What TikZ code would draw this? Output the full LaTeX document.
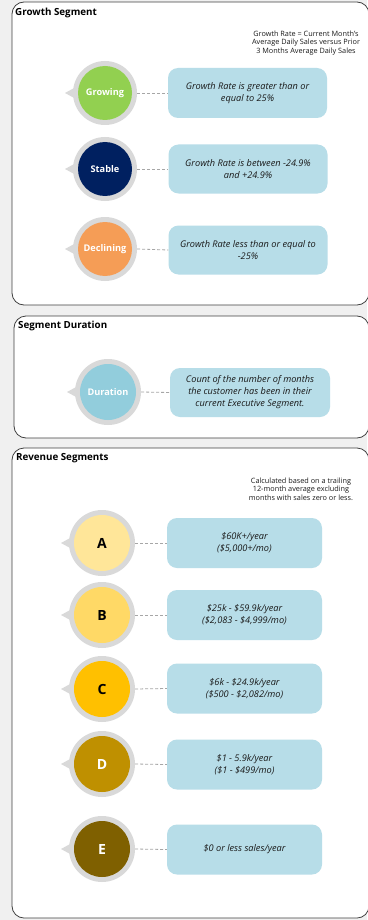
\documentclass[tikz,border=0pt]{standalone}
\usepackage{fontspec}
\setmainfont{Open Sans}
\usetikzlibrary{calc}
\definecolor{pagebg}{HTML}{F0F0F0}
\definecolor{frameline}{HTML}{404040}
\definecolor{ringgray}{HTML}{D9D9D9}
\definecolor{boxblue}{HTML}{B7DDE8}
\definecolor{dashgray}{HTML}{A6A6A6}
\definecolor{cGrowing}{HTML}{92D050}
\definecolor{cStable}{HTML}{002060}
\definecolor{cDeclining}{HTML}{F59D56}
\definecolor{cDuration}{HTML}{92CDDC}
\definecolor{cA}{HTML}{FFE699}
\definecolor{cB}{HTML}{FFD966}
\definecolor{cC}{HTML}{FFC000}
\definecolor{cD}{HTML}{BF9000}
\definecolor{cE}{HTML}{7F6000}
\definecolor{inkdark}{HTML}{1A1A1A}

\tikzset{
  panel/.style={draw=frameline, line width=0.8pt, fill=white, rounded corners=12},
  paneltitle/.style={anchor=west, inner sep=0pt, font=\fontsize{9.8}{11}\selectfont\bfseries},
  ring/.style={circle, fill=ringgray, inner sep=0pt},
  core/.style={circle, inner sep=0pt, font=\fontsize{9.2}{10}\selectfont\bfseries},
  letter/.style={circle, inner sep=0pt, font=\fontsize{14}{16}\selectfont\bfseries},
  infobox/.style={fill=boxblue, rounded corners=10, align=center, inner sep=0pt,
    text=inkdark, font=\fontsize{9.2}{12}\selectfont\itshape},
  note/.style={align=center, inner sep=0pt, text=inkdark,
    font=\fontsize{7.3}{8.6}\selectfont},
  link/.style={draw=dashgray, line width=0.8pt, dash pattern=on 3pt off 2pt}
}

% ring with a small left-pointing tab, plus its coloured core
% #1 name, #2 x, #3 y, #4 ring radius, #5 core radius, #6 core style, #7 fill, #8 text colour, #9 label
\newcommand\segbubble[9]{%
  \fill[ringgray] (#2-#4+3,#3-6) -- (#2-#4-8,#3) -- (#2-#4+3,#3+6) -- cycle;
  \node[ring, minimum size=2*#4] (#1) at (#2,#3) {};
  \node[#6, fill=#7, text=#8, minimum size=2*#5] (#1core) at (#2,#3) {#9};
}

\begin{document}
\begin{tikzpicture}[x=1pt, y=-1pt]
\useasboundingbox (0,0) rectangle (367,920);
\fill[pagebg] (0,0) rectangle (367,920);

% ---------- panels ----------
\draw[panel] (12,2) rectangle (369,305);
\draw[panel] (14,316) rectangle (369,438);
\draw[panel] (12,448) rectangle (369,918);

\node[paneltitle] (t1) at (15,13) {Growth Segment};
\node[paneltitle] (t2) at (18,326) {Segment Duration};
\node[paneltitle] (t3) at (16,458) {Revenue Segments};

% ---------- growth segment ----------
\node[note] (n1) at (306,43) {Growth Rate = Current Month's\\Average Daily Sales versus Prior\\3 Months Average Daily Sales};

\segbubble{grow}{105}{93}{32}{27}{core}{cGrowing}{white}{Growing}
\segbubble{stab}{105}{169}{32}{27}{core}{cStable}{white}{Stable}
\segbubble{decl}{105}{249}{32}{27}{core}{cDeclining}{white}{Declining}

\node[infobox, minimum width=159, minimum height=50] (bgrow) at (247.5,93) {Growth Rate is greater than or\\equal to 25\%};
\node[infobox, minimum width=159, minimum height=49] (bstab) at (248,169) {Growth Rate is between -24.9\%\\and +24.9\%};
\node[infobox, minimum width=159, minimum height=49] (bdecl) at (248,250) {Growth Rate less than or equal to\\-25\%};

\draw[link] (grow.east) -- (bgrow.west);
\draw[link] (stab.east) -- (bstab.west);
\draw[link] (decl.east) -- (bdecl.west);

% ---------- segment duration ----------
\segbubble{dur}{108}{392}{33}{28}{core}{cDuration}{white}{Duration}
\node[infobox, minimum width=160, minimum height=49] (bdur) at (250,392.5) {Count of the number of months\\the customer has been in their\\current Executive Segment.};
\draw[link] (dur.east) -- (bdur.west);

% ---------- revenue segments ----------
\node[note] (n2) at (301,489) {Calculated based on a trailing\\12-month average excluding\\months with sales zero or less.};

\segbubble{sa}{102}{543}{33}{28}{letter}{cA}{black}{A}
\segbubble{sb}{102}{615}{33}{28}{letter}{cB}{black}{B}
\segbubble{sc}{102}{689}{33}{28}{letter}{cC}{black}{C}
\segbubble{sd}{102}{764}{33}{28}{letter}{cD}{white}{D}
\segbubble{se}{102}{849}{33}{28}{letter}{cE}{white}{E}

\node[infobox, minimum width=155, minimum height=50] (ba) at (244.5,543) {\$60K+/year\\(\$5,000+/mo)};
\node[infobox, minimum width=155, minimum height=50] (bb) at (244.5,615) {\$25k - \$59.9k/year\\(\$2,083 - \$4,999/mo)};
\node[infobox, minimum width=155, minimum height=50] (bc) at (244.5,688.5) {\$6k - \$24.9k/year\\(\$500 - \$2,082/mo)};
\node[infobox, minimum width=155, minimum height=50] (bd) at (244.5,764.5) {\$1 - 5.9k/year\\(\$1 - \$499/mo)};
\node[infobox, minimum width=155, minimum height=50] (be) at (244.5,849.5) {\$0 or less sales/year};

\draw[link] (sa.east) -- (ba.west);
\draw[link] (sb.east) -- (bb.west);
\draw[link] (sc.east) -- (bc.west);
\draw[link] (sd.east) -- (bd.west);
\draw[link] (se.east) -- (be.west);
\end{tikzpicture}
\end{document}
